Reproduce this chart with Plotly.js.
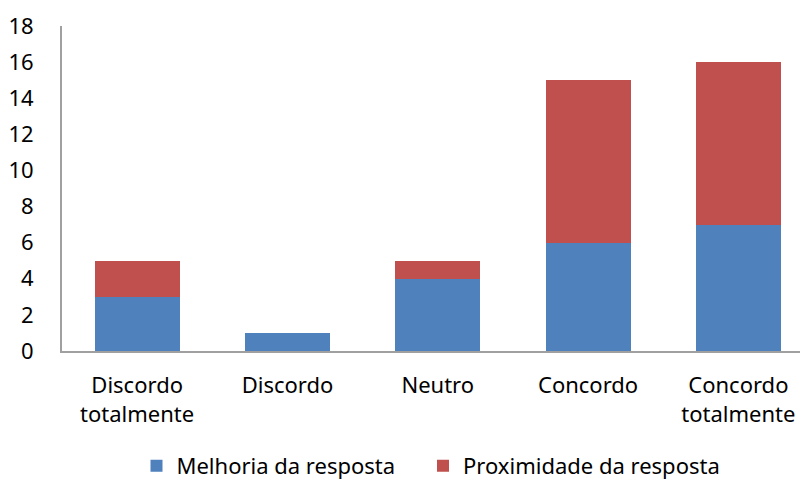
<!DOCTYPE html>
<html><head><meta charset="utf-8">
<script src="https://cdn.plot.ly/plotly-3.0.1.min.js"></script>
<style>body{margin:0;background:#fff}#c{width:801px;height:487px}</style>
</head><body><div id="c"></div>
<script>
const categories = ["Discordo<br>totalmente", "Discordo", "Neutro", "Concordo", "Concordo<br>totalmente"];
const melhoria = [3, 1, 4, 6, 7];
const proximidade = [2, 0, 1, 9, 9];
const seriesNames = ["Melhoria da resposta\u00a0\u00a0\u00a0\u00a0", "Proximidade da resposta"];
const yTicks = [0, 2, 4, 6, 8, 10, 12, 14, 16, 18];

const font = {family: "Noto Sans, Open Sans, sans-serif", size: 22, color: "#000"};
const data = [
  {type: "bar", x: [0,1,2,3,4], y: melhoria, name: seriesNames[0], marker: {color: "#4F81BD"}, width: 0.565},
  {type: "bar", x: [0,1,2,3,4], y: proximidade, name: seriesNames[1], marker: {color: "#C0504D"}, width: 0.565}
];
const layout = {
  width: 801, height: 487,
  margin: {l: 62, r: 1, t: 26, b: 135},
  barmode: "stack",
  showlegend: true,
  font: font,
  paper_bgcolor: "#fff", plot_bgcolor: "#fff",
  xaxis: {
    tickmode: "array", tickvals: [0,1,2,3,4], ticktext: categories,
    range: [-0.5, 4.41], showgrid: false, zeroline: false,
    showline: true, linecolor: "#a0a0a0", linewidth: 2,
    ticks: "outside", ticklen: 14, tickcolor: "rgba(0,0,0,0)",
    tickfont: font, fixedrange: true, automargin: false
  },
  yaxis: {
    range: [0, 18], tickmode: "array", tickvals: yTicks,
    showgrid: false, zeroline: false,
    showline: true, linecolor: "#a0a0a0", linewidth: 2,
    ticks: "outside", ticklen: 22, tickcolor: "rgba(0,0,0,0)",
    tickfont: font, automargin: false
  },
  legend: {
    orientation: "h", x: 0.5, xanchor: "center", y: -0.414, yanchor: "bottom",
    font: font, traceorder: "normal", itemwidth: 30
  }
};
Plotly.newPlot("c", data, layout, {displayModeBar: false, staticPlot: true});
</script></body></html>
